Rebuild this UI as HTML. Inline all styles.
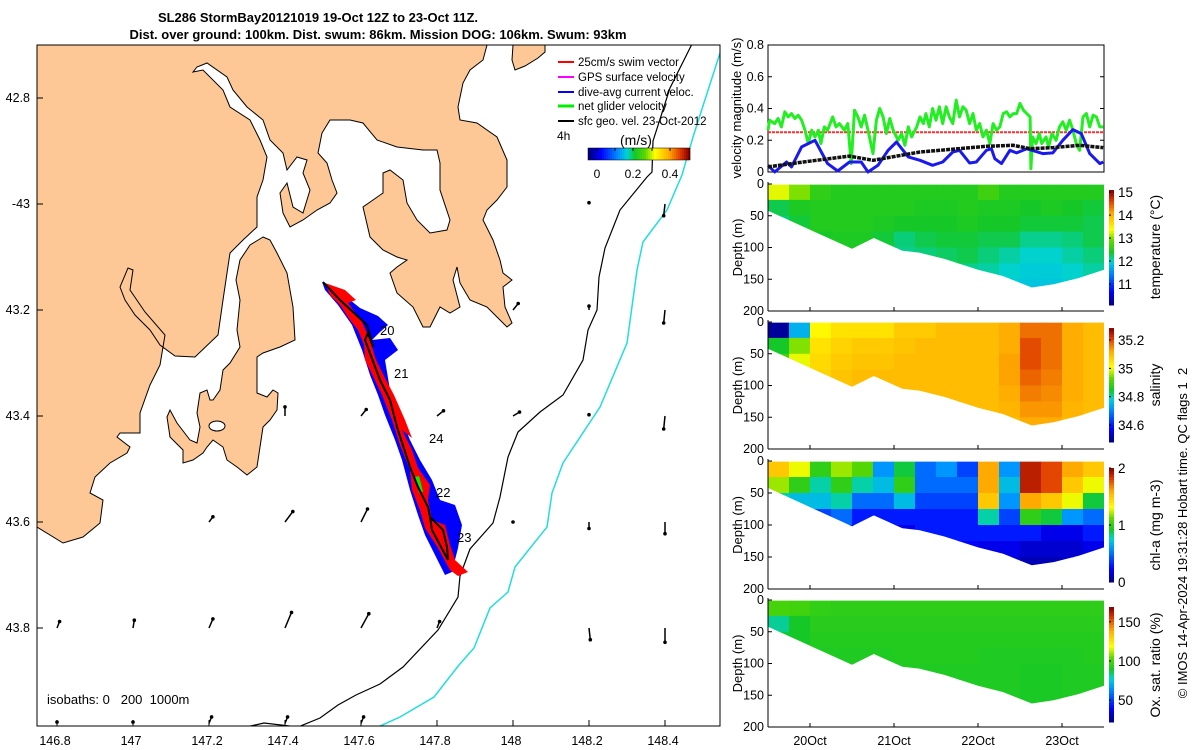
<!DOCTYPE html>
<html><head><meta charset="utf-8">
<style>
html,body{margin:0;padding:0;background:#fff;}
svg{display:block;font-family:"Liberation Sans","DejaVu Sans",sans-serif;}
text{white-space:pre;}
</style></head>
<body>
<svg id="fig" width="1200" height="750" viewBox="0 0 1200 750" xmlns="http://www.w3.org/2000/svg">
<defs>
  <clipPath id="mapclip"><rect x="37" y="45" width="683" height="681"/></clipPath>
</defs>
<text x="318" y="22" font-size="13" font-weight="bold" text-anchor="middle">SL286 StormBay20121019 19-Oct 12Z to 23-Oct 11Z.</text>
<text x="378" y="39" font-size="13" font-weight="bold" text-anchor="middle">Dist. over ground: 100km. Dist. swum: 86km. Mission DOG: 106km. Swum: 93km</text>

<g id="map">
  <g clip-path="url(#mapclip)">
    <rect x="37" y="45" width="683" height="681" fill="#fff"/>
    <polygon fill="#fdc896" stroke="#000" stroke-width="1" points="37,45 487,45 483,60 470,70 463,83 458,107 460,120 477,123 497,137 507,160 507,187 497,200 487,210 483,220 493,240 500,260 503,273 512,280 503,287 505,307 512,323 507,327 497,317 487,307 470,300 460,283 457,267 453,280 460,307 450,313 440,307 430,327 423,327 413,307 397,293 390,273 397,267 407,260 397,257 383,250 370,237 363,207 373,200 383,193 383,173 390,170 403,180 407,203 417,220 430,233 447,230 450,220 440,190 440,163 437,150 423,150 397,147 377,140 363,123 350,120 330,120 322,133 318,153 327,163 332,180 337,193 330,203 317,210 303,220 290,227 283,213 280,193 287,183 293,207 303,213 310,190 303,173 307,160 297,157 287,170 283,153 270,140 263,120 247,107 233,90 227,77 207,63 197,67 193,72 203,70 223,90 230,107 250,120 260,140 267,157 263,180 257,197 257,227 243,240 230,253 227,273 223,300 218,335 195,357 175,356 160,345 150,330 135,315 125,300 120,287 128,268 133,270 130,290 145,312 165,335 160,365 150,385 140,413 140,433 120,433 117,437 130,447 127,453 110,463 95,477 90,493 103,500 100,523 83,537 63,543 37,527"/>
    <polygon fill="#fdc896" stroke="#000" stroke-width="1" points="263,237 270,240 277,253 287,273 293,307 295,340 280,347 263,353 257,357 257,393 267,397 273,390 278,393 277,410 270,420 263,427 260,447 257,467 247,475 237,467 227,460 223,447 213,440 207,447 203,453 193,460 183,463 183,450 170,437 167,417 170,410 177,423 190,440 197,443 200,427 197,413 200,393 207,390 210,400 213,400 220,390 223,370 230,363 240,347 237,330 240,300 236,280 240,260 250,245"/>
    <ellipse cx="217" cy="426" rx="8" ry="5" fill="#fff" stroke="#000" stroke-width="1"/>
    <polygon fill="#fdc896" stroke="#000" stroke-width="1" points="513,45 545,45 545,52 538,58 525,66 515,70 512,60"/>
    <polyline fill="none" stroke="#000" stroke-width="1.2" points="692,44 670,88 653,141 652,172 647,177 620,210 605,248 599,277 597,310 588,330 583,360 563,395 540,412 518,432 508,457 500,497 493,523 470,549 460,576 458,597 438,630 403,667 380,684 356,695 338,705 320,718 298,727 264,723 246,727"/>
    <polyline fill="none" stroke="#22dddd" stroke-width="1.5" points="720,53 693,137 682,175 667,210 643,242 637,270 627,343 600,407 563,463 552,493 547,527 515,567 508,592 490,608 474,648 459,665 434,697 400,717 378,727"/>
    <polygon fill="#0000ff" points="322,282 340,292 360,308 378,316 388,325 380,332 372,340 390,338 398,350 385,360 390,390 400,415 410,440 420,460 432,480 440,500 455,505 462,525 458,548 452,572 445,575 435,555 425,535 418,515 410,490 402,460 395,440 385,415 378,395 370,375 362,350 352,325 338,305 325,290"/>
    <polygon fill="#ff0000" points="325,283 345,290 356,300 348,303 362,322 370,340 376,360 385,378 394,395 405,420 412,438 402,430 412,450 418,468 430,485 428,500 432,520 445,525 450,545 455,560 468,572 458,576 450,570 438,548 425,528 420,510 412,490 410,470 400,445 392,420 382,395 370,370 365,360 364,345 358,330 350,320 340,305 330,295"/>
    <polygon fill="#00ee00" points="415,477 419,476 423,492 419,493"/>
    <polyline fill="none" stroke="#000" stroke-width="2" points="323,282 340,300 353,312 367,325 373,347 368,333 365,340 380,380 390,400 397,427 410,467 418,487 428,507 430,517 443,530 447,547 448,560 432,530 430,517"/>
    <text x="380" y="335" font-size="13">20</text>
    <text x="394" y="378" font-size="13">21</text>
    <text x="429" y="443" font-size="13">24</text>
    <text x="436" y="497" font-size="13">22</text>
    <text x="457" y="542" font-size="13">23</text>
    <g id="arrows"></g>
  </g>
  <rect x="37" y="45" width="683" height="681" fill="none" stroke="#000" stroke-width="1"/>
  <g id="maptext"></g>
  <text x="47" y="704" font-size="13">isobaths: 0   200  1000m</text>
  <g id="legend">
    <line x1="558" y1="62" x2="574" y2="62" stroke="#ff0000" stroke-width="2"/><text x="578" y="66" font-size="11.5">25cm/s swim vector</text>
    <line x1="558" y1="77" x2="574" y2="77" stroke="#ff00ff" stroke-width="2"/><text x="578" y="81" font-size="11.5">GPS surface velocity</text>
    <line x1="558" y1="92" x2="574" y2="92" stroke="#0000ff" stroke-width="2"/><text x="578" y="96" font-size="11.5">dive-avg current veloc.</text>
    <line x1="558" y1="106" x2="574" y2="106" stroke="#00ee00" stroke-width="3"/><text x="578" y="110" font-size="11.5">net glider velocity</text>
    <line x1="558" y1="121" x2="574" y2="121" stroke="#000" stroke-width="2"/><text x="578" y="125" font-size="11.5">sfc geo. vel. 23-Oct-2012</text>
    <text x="557" y="140" font-size="12">4h</text>
    <text x="620" y="145" font-size="14">(m/s)</text>
    <text x="597" y="178" font-size="12" text-anchor="middle">0</text>
    <text x="633" y="178" font-size="12" text-anchor="middle">0.2</text>
    <text x="670" y="178" font-size="12" text-anchor="middle">0.4</text>
  </g>
</g>
<g id="right"></g>
</svg>

<script>
var NS='http://www.w3.org/2000/svg';
function mk(tag,attrs,parent){var e=document.createElementNS(NS,tag);for(var k in attrs)e.setAttribute(k,attrs[k]);parent.appendChild(e);return e;}
var stops=[[0,[0,0,127]],[0.12,[0,0,255]],[0.3,[0,150,255]],[0.38,[0,210,210]],[0.46,[20,200,40]],[0.56,[90,215,0]],[0.66,[255,255,0]],[0.8,[255,170,0]],[0.92,[220,50,0]],[1,[128,0,0]]];
function cmap(t){t=Math.max(0,Math.min(1,t));for(var i=1;i<stops.length;i++){if(t<=stops[i][0]){var a=stops[i-1],b=stops[i],f=(t-a[0])/(b[0]-a[0]);return 'rgb('+[0,1,2].map(function(j){return Math.round(a[1][j]+f*(b[1][j]-a[1][j]));}).join(',')+')';}}return 'rgb(128,0,0)';}

// ---------- map data ----------
var lonTicks=[146.8,147,147.2,147.4,147.6,147.8,148,148.2,148.4];
var latTicks=[42.8,43,43.2,43.4,43.6,43.8];
var latTickLabels=['42.8','-43','43.2','43.4','43.6','43.8'];
var arrowLon=[146.8,147,147.2,147.4,147.6,147.8,148.2,148.4, 147.2,147.4,147.6,148,148.2,148.4, 147.4,147.6,147.8,148,148.2,148.4, 148,148.2,148.4, 148.2,148.4, 146.8,147,147.2,147.4,147.6];
var arrowLat=[43.8,43.8,43.8,43.8,43.8,43.8,43.8,43.8, 43.6,43.6,43.6,43.6,43.6,43.6, 43.4,43.4,43.4,43.4,43.4,43.4, 43.2,43.2,43.2, 43.0,43.0, 43.98,43.98,43.98,43.98,43.98];
var arrowU=[0.02,0.01,0.03,0.05,0.06,0.02,0.01,0.0, 0.03,0.06,0.05,0.0,0.0,0.0, 0.0,0.04,0.05,0.05,0.0,-0.01, 0.04,0.0,-0.01, 0.0,-0.01, 0.0,0.0,0.02,0.02,0.02];
var arrowV=[0.05,0.06,0.07,0.12,0.11,0.05,-0.09,-0.11, 0.04,0.08,0.1,0.0,-0.05,-0.09, 0.07,0.05,0.04,0.03,0.01,-0.1, 0.05,0.03,-0.1, 0.01,-0.09, 0.01,0.01,0.05,0.05,0.05];
function lonX(l){return 57+(l-146.8)*380;}
function latY(l){return 98+(l-42.8)*530;}

var ag=document.getElementById('arrows');
for(var i=0;i<arrowLon.length;i++){
  var x0=lonX(arrowLon[i]),y0=latY(arrowLat[i]);
  var x1=x0+arrowU[i]*130,y1=y0-arrowV[i]*130;
  var ln=mk('line',{x1:x0,y1:y0,x2:x1,y2:y1,stroke:'#000','stroke-width':1.5},ag);
  
  
  var c=mk('circle',{cx:x1,cy:y1,r:1.8,fill:'#000'},ag);
  
  
}
var mt=document.getElementById('maptext');
lonTicks.forEach(function(l){
  var x=lonX(l);
  mk('line',{x1:x,y1:726,x2:x,y2:720,stroke:'#000'},mt);
  var t=mk('text',{x:x-2,y:745,'font-size':12.5,'text-anchor':'middle'},mt);t.textContent=String(l);
  
  
});
latTicks.forEach(function(l,i){
  var y=latY(l);
  mk('line',{x1:37,y1:y,x2:43,y2:y,stroke:'#000'},mt);
  var t=mk('text',{x:30,y:y+4,'font-size':12.5,'text-anchor':'end'},mt);t.textContent=latTickLabels[i];
  
  
});
(function(){
  var p=document.getElementById('legend');
  var cb=mk('g',{},p);
  
  
  for(var k=0;k<51;k++){mk('rect',{x:588+k*2,y:148,width:2.2,height:12,fill:cmap(k/50)},cb);}
  mk('rect',{x:588,y:148,width:102,height:12,fill:'none',stroke:'#000','stroke-width':0.5},cb);
  [597,615,633,652,670].forEach(function(x){mk('line',{x1:x,y1:148,x2:x,y2:151,stroke:'#000'},cb);});
})();

// ---------- velocity series ----------
var greenDays=[19.5,19.52,19.58,19.62,19.66,19.7,19.74,19.78,19.82,19.86,19.9,19.94,19.98,20.02,20.06,20.1,20.13,20.17,20.21,20.27,20.31,20.35,20.41,20.45,20.49,20.53,20.57,20.61,20.65,20.69,20.75,20.79,20.83,20.87,20.91,20.95,20.99,21.05,21.09,21.13,21.17,21.21,21.27,21.31,21.35,21.38,21.42,21.46,21.5,21.54,21.58,21.62,21.66,21.7,21.74,21.78,21.82,21.86,21.9,21.94,21.98,22.02,22.06,22.1,22.14,22.18,22.22,22.26,22.3,22.34,22.38,22.42,22.46,22.5,22.54,22.58,22.62,22.63,22.65,22.69,22.73,22.76,22.81,22.84,22.88,22.93,22.97,23.01,23.05,23.09,23.13,23.17,23.21,23.25,23.29,23.33,23.37,23.41,23.45,23.49];
var greenVals=[0.263,0.326,0.305,0.337,0.284,0.379,0.347,0.368,0.337,0.358,0.326,0.263,0.179,0.263,0.221,0.263,0.179,0.284,0.263,0.347,0.284,0.305,0.263,0.305,0.053,0.389,0.347,0.284,0.358,0.263,0.116,0.326,0.4,0.347,0.242,0.337,0.263,0.2,0.242,0.168,0.284,0.221,0.284,0.347,0.305,0.368,0.284,0.4,0.326,0.411,0.305,0.411,0.347,0.305,0.453,0.347,0.411,0.389,0.305,0.368,0.263,0.305,0.221,0.263,0.179,0.305,0.263,0.284,0.368,0.379,0.347,0.368,0.368,0.432,0.389,0.368,0.347,0.021,0.221,0.179,0.242,0.179,0.221,0.158,0.242,0.2,0.284,0.316,0.263,0.326,0.263,0.179,0.137,0.347,0.368,0.284,0.358,0.347,0.284,0.284];
var blueDays=[19.5,19.58,19.72,19.78,19.9,20.06,20.21,20.33,20.47,20.61,20.69,20.81,20.93,21.03,21.17,21.31,21.46,21.58,21.7,21.78,21.9,21.98,22.1,22.16,22.2,22.28,22.38,22.46,22.58,22.77,22.89,23.01,23.13,23.23,23.33,23.45,23.49];
var blueVals=[0.042,0.0,0.063,0.032,0.158,0.2,0.053,0.006,0.063,0.063,0.0,0.042,0.137,0.189,0.095,0.074,0.042,0.063,0.126,0.137,0.057,0.063,0.137,0.147,0.084,0.053,0.137,0.12,0.147,0.116,0.12,0.2,0.267,0.242,0.116,0.053,0.063];
var sfcDays=[19.5,19.92,20.47,20.75,21.31,22.1,22.42,22.62,22.89,23.21,23.49];
var sfcVals=[0.032,0.063,0.1,0.074,0.126,0.162,0.168,0.147,0.154,0.168,0.154];
var swimDays=[19.5,23.5];
var swimVals=[0.25,0.25];
var velTicks=[0,0.2,0.4,0.6,0.8];
var velTickLabels=['0','0.2','0.4','0.6','0.8'];
var dayTicks=[20,21,22,23];
var dayTickLabels=['20Oct','21Oct','22Oct','23Oct'];

var X0=768,X1=1104;
function xd(d){return X0+(d-19.5)*(X1-X0)/4;}
var R=document.getElementById('right');
function vy(v){return 172-v*(172-45)/0.8;}
mk('rect',{x:X0,y:45,width:X1-X0,height:127,fill:'#fff',stroke:'#000'},R);
velTicks.forEach(function(v,i){
  mk('line',{x1:X0,y1:vy(v),x2:X0+4,y2:vy(v),stroke:'#000'},R);
  mk('line',{x1:X1,y1:vy(v),x2:X1-4,y2:vy(v),stroke:'#000'},R);
  var t=mk('text',{x:764,y:vy(v)+4,'font-size':12.5,'text-anchor':'end'},R);t.textContent=velTickLabels[i];
  
  
});
var vt=mk('text',{x:0,y:0,'font-size':13,'text-anchor':'middle',transform:'translate(741,108) rotate(-90)'},R);vt.textContent='velocity magnitude (m/s)';


function series(days,vals,color,w,name,dash){
  var pts=days.map(function(d,i){return xd(d).toFixed(1)+','+vy(vals[i]).toFixed(1);}).join(' ');
  var p=mk('polyline',{points:pts,fill:'none',stroke:color,'stroke-width':w,'stroke-linejoin':'round'},R);
  if(dash)p.setAttribute('stroke-dasharray',dash);
  
  
}
series(swimDays,swimVals,'#ff3030',2,'swim-speed-line','3,1');
series(greenDays,greenVals,'#22ee22',3,'net-glider-velocity-line');
series(blueDays,blueVals,'#1a1aee',3,'dive-avg-current-line');
series(sfcDays,sfcVals,'#111',3.5,'sfc-geo-velocity-line','4,1');

// ---------- sections ----------
var botDays=[19.5,19.6,20.0,20.5,20.76,21.1,21.3,21.6,22.0,22.3,22.64,22.9,23.2,23.5];
var botDepth=[42,48,72,102,85,105,108,118,135,145,163,158,148,135];
var depthTicks=[0,50,100,150,200];
var tempRows=[
[13.3,13.0,12.6,12.5,12.5,12.5,12.5,12.5,12.5,12.5,12.7,12.5,12.5,12.5,12.5,12.5],
[12.3,12.45,12.5,12.5,12.5,12.5,12.5,12.45,12.45,12.5,12.45,12.45,12.4,12.45,12.4,12.35],
[12.2,12.35,12.5,12.5,12.5,12.45,12.4,12.4,12.4,12.45,12.4,12.4,12.35,12.35,12.35,12.3],
[12.2,12.3,12.4,12.45,12.45,12.35,12.2,12.3,12.35,12.35,12.3,12.3,12.15,12.15,12.2,12.3],
[12.2,12.2,12.3,12.35,12.35,12.25,12.15,12.2,12.25,12.3,12.2,12.1,12.0,12.0,12.1,12.2],
[12.1,12.1,12.1,12.1,12.1,12.1,12.1,12.1,12.15,12.15,12.1,12.0,11.95,11.95,12.0,12.1],
[12.0,12.0,12.0,12.0,12.0,12.0,12.0,12.0,12.0,12.0,12.0,11.95,11.9,11.9,11.95,12.0],
[12.0,12.0,12.0,12.0,12.0,12.0,12.0,12.0,12.0,12.0,12.0,11.95,11.9,11.9,11.95,12.0]];
var salRows=[
[34.5,34.75,35.02,35.05,35.05,35.05,35.08,35.08,35.1,35.1,35.1,35.12,35.17,35.17,35.12,35.1],
[34.85,34.95,35.05,35.07,35.08,35.08,35.09,35.1,35.1,35.1,35.1,35.12,35.2,35.17,35.12,35.1],
[34.9,35.0,35.06,35.08,35.09,35.09,35.1,35.1,35.1,35.1,35.1,35.13,35.2,35.17,35.12,35.1],
[34.95,35.03,35.07,35.09,35.1,35.1,35.1,35.1,35.1,35.1,35.1,35.13,35.18,35.16,35.12,35.1],
[35.0,35.05,35.08,35.1,35.1,35.1,35.1,35.1,35.1,35.1,35.1,35.12,35.16,35.15,35.12,35.1],
[35.05,35.08,35.1,35.1,35.1,35.1,35.1,35.1,35.1,35.1,35.1,35.11,35.14,35.14,35.11,35.1],
[35.1,35.1,35.1,35.1,35.1,35.1,35.1,35.1,35.1,35.1,35.1,35.1,35.12,35.12,35.1,35.1],
[35.1,35.1,35.1,35.1,35.1,35.1,35.1,35.1,35.1,35.1,35.1,35.1,35.12,35.12,35.1,35.1]];
var chlRows=[
[1.5,1.3,1.0,1.2,1.1,0.6,0.9,0.5,0.6,0.4,1.6,0.6,1.9,1.8,1.6,1.5],
[1.2,1.0,0.8,1.0,0.8,0.7,1.0,0.5,0.5,0.5,1.6,0.7,1.9,1.8,1.5,1.3],
[0.8,0.7,0.7,0.8,0.5,0.5,0.7,0.4,0.4,0.4,1.5,0.6,1.6,1.5,1.3,0.9],
[0.6,0.5,0.4,0.5,0.3,0.3,0.3,0.3,0.3,0.3,0.8,0.4,1.0,0.9,0.6,0.5],
[0.4,0.4,0.3,0.3,0.2,0.2,0.2,0.3,0.3,0.3,0.3,0.3,0.3,0.2,0.2,0.3],
[0.3,0.3,0.25,0.2,0.2,0.2,0.2,0.25,0.25,0.25,0.2,0.2,0.15,0.15,0.15,0.2],
[0.2,0.2,0.2,0.2,0.2,0.2,0.2,0.2,0.2,0.2,0.15,0.15,0.1,0.1,0.15,0.2],
[0.2,0.2,0.2,0.2,0.2,0.2,0.2,0.2,0.2,0.2,0.15,0.15,0.1,0.1,0.15,0.2]];
var oxRows=[
[100,99,96,95,95,95,95,95,95,95,95,95,95,95,95,95],
[82,90,94,94,94,94,94,94,94,94,94,94,94,94,94,94],
[88,90,93,93,93,93,93,93,93,93,93,93,93,93,93,93],
[90,91,92,92,92,92,93,93,93,93,92,92,92,92,92,93],
[92,92,92,92,92,92,92,92,92,92,92,92,91,91,92,92],
[92,92,92,92,92,92,92,92,92,92,92,92,91,91,92,92],
[92,92,92,92,92,92,92,92,92,92,92,92,91,91,92,92],
[92,92,92,92,92,92,92,92,92,92,92,92,91,91,92,92]];

var panels=[
 {rows:tempRows,top:184,bot:311,vmin:10.09,vmax:15.09,cb:[190,305],ticks:[15,14,13,12,11],labels:['15','14','13','12','11'],title:'temperature (°C)',ty:247,name:'temperature'},
 {rows:salRows,top:322,bot:449,vmin:34.48,vmax:35.285,cb:[328,442],ticks:[35.2,35,34.8,34.6],labels:['35.2','35','34.8','34.6'],title:'salinity',ty:385,name:'salinity'},
 {rows:chlRows,top:461,bot:589,vmin:0,vmax:2,cb:[468,582],ticks:[2,1,0],labels:['2','1','0'],title:'chl-a (mg m-3)',ty:525,name:'chl-a'},
 {rows:oxRows,top:600,bot:727,vmin:22,vmax:169,cb:[607,722],ticks:[150,100,50],labels:['150','100','50'],title:'Ox. sat. ratio (%)',ty:665,name:'oxygen'}];
var defs=document.querySelector('defs');
panels.forEach(function(P,pi){
  function dy(d){return P.top+d*(P.bot-P.top)/200;}
  var cp=mk('clipPath',{id:'sec'+pi},defs);
  var pts=[xd(19.5)+','+dy(1)];
  botDays.forEach(function(d,i){pts.push(xd(d).toFixed(1)+','+dy(botDepth[i]).toFixed(1));});
  pts.push(xd(23.5)+','+dy(1));
  mk('polygon',{points:pts.join(' ')},cp);
  var g=mk('g',{'clip-path':'url(#sec'+pi+')'},R);
  
  
  P.rows.forEach(function(row,r){
    row.forEach(function(v,c){
      var cell=mk('rect',{x:xd(19.5+c*0.25).toFixed(1),y:dy(r*25).toFixed(1),width:21.5,height:16.5,fill:cmap((v-P.vmin)/(P.vmax-P.vmin))},g);
      
      
    });
  });
  mk('line',{x1:X0,y1:P.top-2,x2:X0,y2:P.bot,stroke:'#000'},R);
  mk('line',{x1:X0,y1:P.bot,x2:X1,y2:P.bot,stroke:'#000'},R);
  depthTicks.forEach(function(d){
    mk('line',{x1:X0,y1:dy(d),x2:X0+4,y2:dy(d),stroke:'#000'},R);
    var t=mk('text',{x:764,y:dy(d)+4,'font-size':12.5,'text-anchor':'end'},R);t.textContent=String(d);
    
    
  });
  dayTicks.forEach(function(d){mk('line',{x1:xd(d),y1:P.bot,x2:xd(d),y2:P.bot-4,stroke:'#000'},R);});
  var yt=mk('text',{x:0,y:0,'font-size':13,'text-anchor':'middle',transform:'translate(742,'+((P.top+P.bot)/2)+') rotate(-90)'},R);yt.textContent='Depth (m)';
  
  
  var cg=mk('g',{},R);
  
  
  var n=40,h=(P.cb[1]-P.cb[0])/n;
  for(var k=0;k<n;k++){mk('rect',{x:1109,y:(P.cb[1]-(k+1)*h).toFixed(1),width:5,height:(h+0.5).toFixed(1),fill:cmap((k+0.5)/n)},cg);}
  P.ticks.forEach(function(v,i){
    var y=P.cb[1]-(v-P.vmin)/(P.vmax-P.vmin)*(P.cb[1]-P.cb[0]);
    mk('line',{x1:1109,y1:y,x2:1111,y2:y,stroke:'#000'},cg);
    var t=mk('text',{x:1118,y:y+5,'font-size':13.5},cg);t.textContent=P.labels[i];
  });
  var ct=mk('text',{x:0,y:0,'font-size':14,'text-anchor':'middle',transform:'translate(1160,'+P.ty+') rotate(-90)'},R);ct.textContent=P.title;
  
  
});
dayTicks.forEach(function(d,i){
  var t=mk('text',{x:xd(d),y:745,'font-size':12.5,'text-anchor':'middle'},R);t.textContent=dayTickLabels[i];
  
  
});
var im=mk('text',{x:0,y:0,'font-size':13,'text-anchor':'middle',transform:'translate(1187,533) rotate(-90)'},R);
im.textContent='© IMOS 14-Apr-2024 19:31:28 Hobart time. QC flags 1  2';


</script>
</body></html>
